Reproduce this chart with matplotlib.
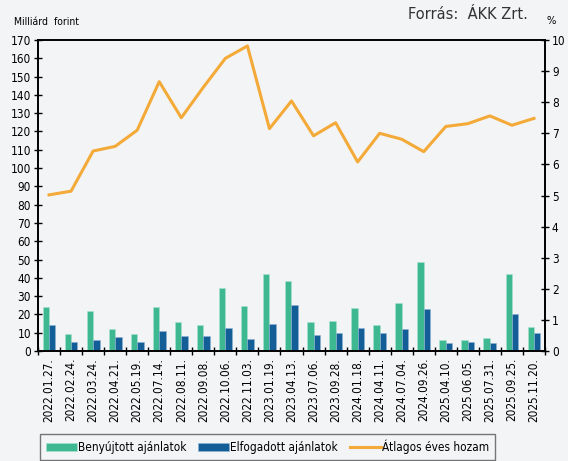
import matplotlib
matplotlib.use("Agg")
import matplotlib.pyplot as plt
import numpy as np

plt.rcParams['font.family'] = ['DejaVu Sans']
plt.rcParams['font.stretch'] = 'condensed'

dates = ["2022.01.27.", "2022.02.24.", "2022.03.24.", "2022.04.21.", "2022.05.19.",
         "2022.07.14.", "2022.08.11.", "2022.09.08.", "2022.10.06.", "2022.11.03.",
         "2023.01.19.", "2023.04.13.", "2023.07.06.", "2023.09.28.", "2024.01.18.",
         "2024.04.11.", "2024.07.04.", "2024.09.26.", "2025.04.10.", "2025.06.05.",
         "2025.07.31.", "2025.09.25.", "2025.11.20."]
submitted = [24, 9.3, 21.6, 12.2, 9.5, 24, 16, 14, 34.2, 24.7, 42.2, 38, 16.1, 16.5,
             23.6, 14.1, 26.5, 48.8, 6, 5.9, 6.9, 42, 13.2]
accepted = [14.4, 4.7, 5.8, 7.5, 4.7, 10.9, 8, 8, 12.4, 6.4, 14.7, 24.9, 9, 9.9,
            12.4, 9.9, 11.9, 23, 4.4, 4.9, 4.4, 20.1, 9.9]
yield_avg = [5.02, 5.14, 6.43, 6.58, 7.1, 8.66, 7.5, 8.48, 9.41, 9.81, 7.15, 8.04,
             6.92, 7.34, 6.08, 7.0, 6.81, 6.41, 7.22, 7.31, 7.56, 7.26, 7.48]

BG = "#f3f4f6"
GREEN = "#3db891"
BLUE = "#145e98"
ORANGE = "#f4aa38"

fig = plt.figure(figsize=(5.68, 4.61), dpi=100, facecolor=BG)
ax = fig.add_axes([0.0669, 0.2386, 0.8926, 0.6746])
ax.set_facecolor(BG)
x = np.arange(len(dates))
w = 0.29
ax.bar(x - w / 2, submitted, width=w, color=GREEN, edgecolor="#a9e3cf", linewidth=0.4,
       label="Benyújtott ajánlatok", zorder=2)
ax.bar(x + w / 2, accepted, width=w, color=BLUE, edgecolor="#8fb3d3", linewidth=0.4,
       label="Elfogadott ajánlatok", zorder=2)
ax.set_ylim(0, 170)
ax.set_xlim(-0.5, len(dates) - 0.5)
ax.set_yticks(np.arange(0, 171, 10))
ax.set_xticks(np.arange(-0.5, len(dates), 1.0))
ax.set_xticklabels([])
ax.set_xticks(x, minor=True)
ax.set_xticklabels(dates, minor=True, rotation=90, fontsize=8.5)
ax.tick_params(axis="x", which="minor", length=0, pad=5)
ax.tick_params(axis="x", which="major", direction="inout", length=6, width=1)
ax.tick_params(axis="y", direction="inout", length=6, width=1, labelsize=8.5, pad=2)

ax2 = ax.twinx()
ax2.plot(x, yield_avg, color=ORANGE, lw=2.2, label="Átlagos éves hozam", zorder=3)
ax2.set_ylim(0, 10)
ax2.set_yticks(np.arange(0, 11, 1))
ax2.tick_params(axis="y", direction="inout", length=6, width=1, labelsize=8.5, pad=2)

for a in (ax, ax2):
    for s in a.spines.values():
        s.set_linewidth(1.2)
        s.set_color("black")

fig.text(0.025, 0.953, "Milliárd  forint", fontsize=7.5, ha="left", va="center")
fig.text(0.93, 0.968, "Forrás:  ÁKK Zrt.", fontsize=10.5, ha="right", va="center",
         color="#333333", fontstretch="normal")
fig.text(0.963, 0.955, "%", fontsize=8, ha="left", va="center")

h1, l1 = ax.get_legend_handles_labels()
h2, l2 = ax2.get_legend_handles_labels()
leg = fig.legend(h1 + h2, l1 + l2, ncol=3, loc="upper left",
                 bbox_to_anchor=(0.0704, -0.03, 0.8011, 0.0886), mode="expand",
                 fontsize=8.5, frameon=True, fancybox=False, edgecolor="#555555",
                 facecolor=BG, handlelength=2.6, handletextpad=0.1, borderaxespad=0,
                 borderpad=0.5)
leg.get_frame().set_linewidth(1.0)

fig.savefig("out.png", dpi=100, facecolor=BG)
